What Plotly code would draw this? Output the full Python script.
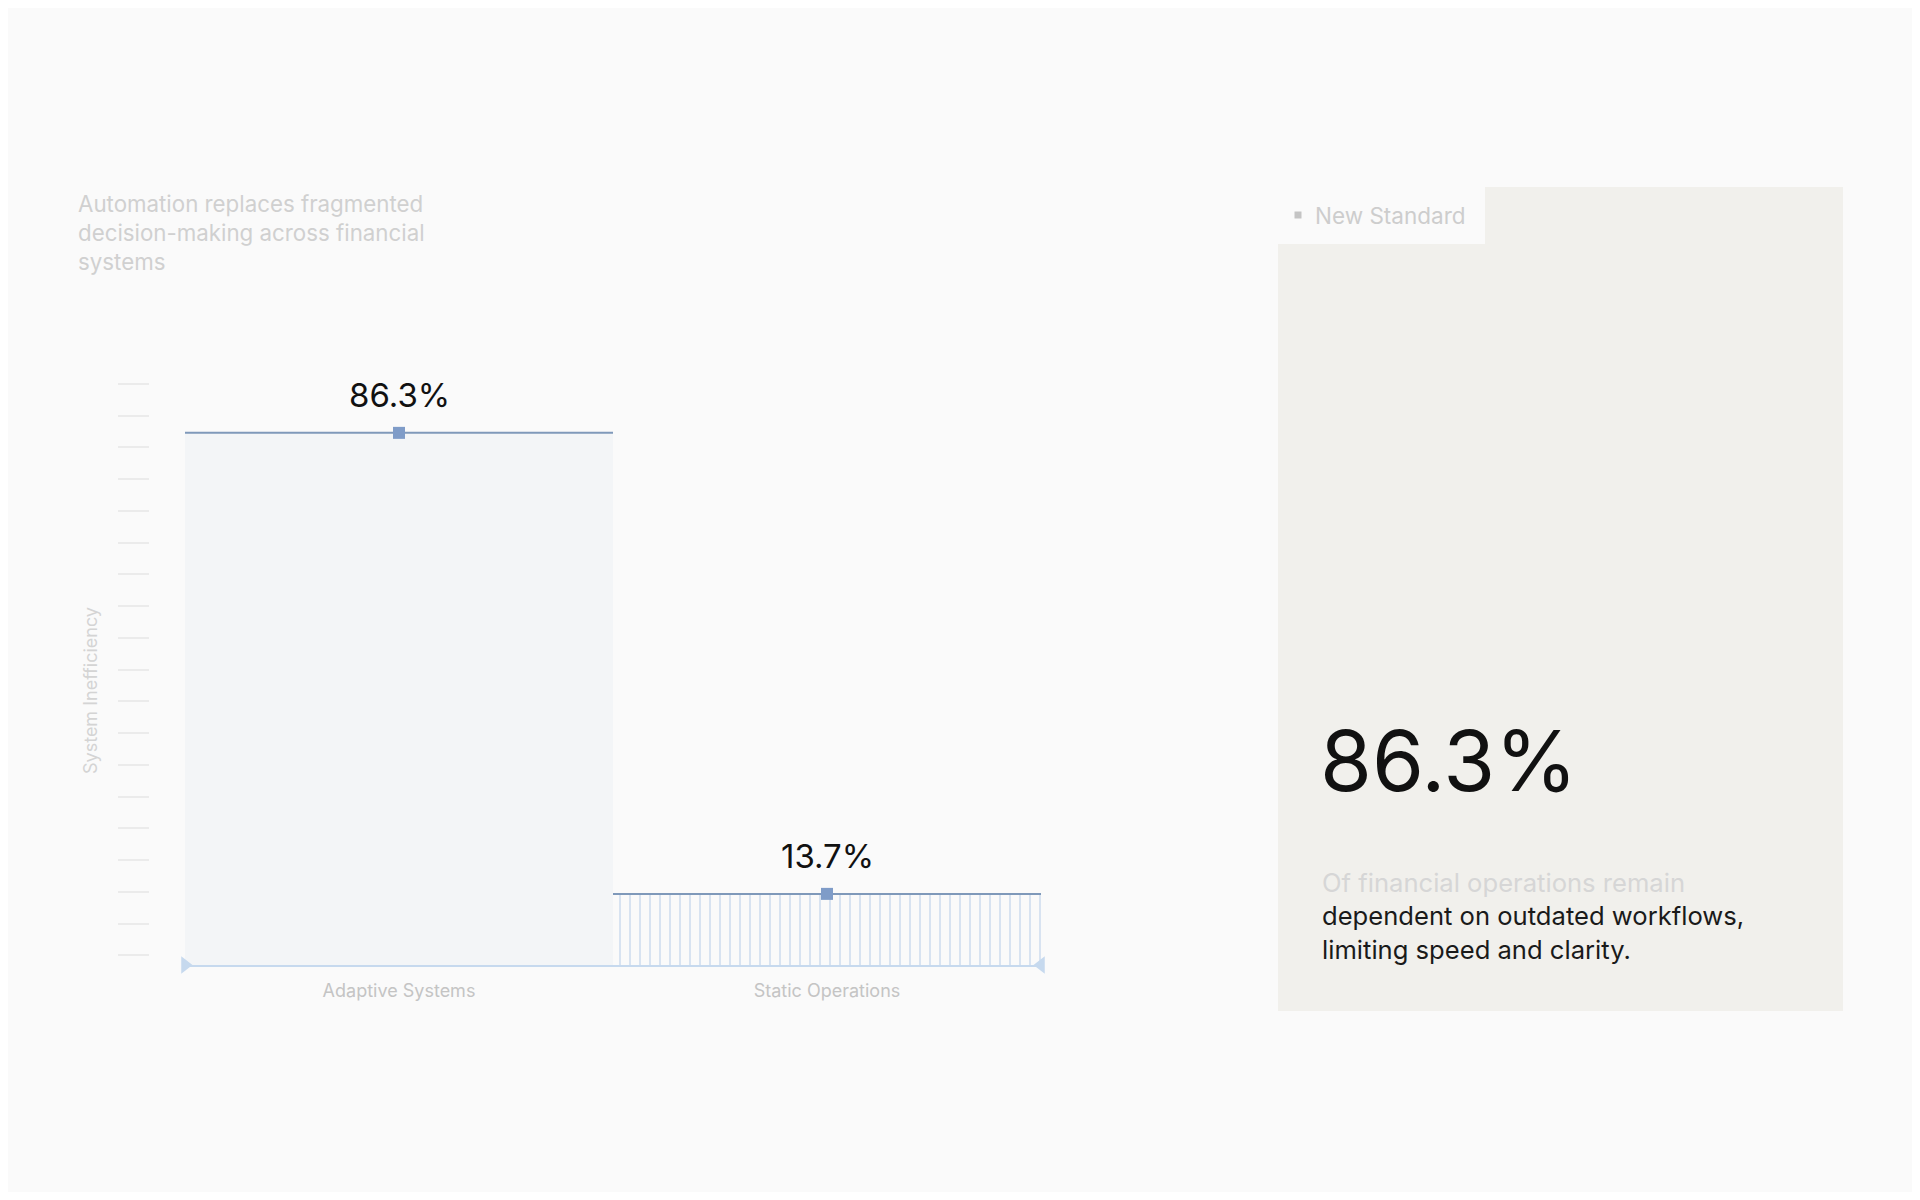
import plotly.graph_objects as go

# %%
# Data
categories = ["Adaptive Systems", "Static Operations"]
values = [86.3, 13.7]

subtitle_lines = [
    "Automation replaces fragmented",
    "decision-making across financial",
    "systems",
]
y_title = "System Inefficiency"
legend_label = "New Standard"
callout_lines = [
    "Of financial operations remain",
    "dependent on outdated workflows,",
    "limiting speed and clarity.",
]

# %%
# Styling
PAGE_MARGIN = 8  # default body margin of the html page
W, H = 1920 - 2 * PAGE_MARGIN, 1200 - 2 * PAGE_MARGIN
FONT = "Inter"
BG = "#fafafa"
PANEL = "#f1f0ec"
LINE_BLUE = "#7f99ba"
MARK_BLUE = "#7f9cc8"
HATCH = "#b6cbe7"
AXIS_BLUE = "#c6d9ee"
LIGHT_TEXT = "#cdcdcd"


def px_x(x):
    # screen pixel -> paper fraction
    return (x - PAGE_MARGIN) / W


def px_y(y):
    return 1 - (y - PAGE_MARGIN) / H


xs = list(range(len(categories)))

fig = go.Figure()

# bars: plain fill for the first, vertical hatch for the second
fig.add_trace(
    go.Bar(
        x=xs[:1],
        y=values[:1],
        width=1,
        marker=dict(color="#f3f5f7", line=dict(width=0)),
        hoverinfo="skip",
        showlegend=False,
    )
)
fig.add_trace(
    go.Bar(
        x=xs[1:],
        y=values[1:],
        width=1,
        marker=dict(
            color=BG,
            line=dict(width=0),
            pattern=dict(shape="|", fgcolor=HATCH, bgcolor=BG, size=10, solidity=0.2),
        ),
        hoverinfo="skip",
        showlegend=False,
    )
)

# top edge line of each bar
for i, v in zip(xs, values):
    fig.add_trace(
        go.Scatter(
            x=[i - 0.5, i + 0.5],
            y=[v, v],
            mode="lines",
            line=dict(color=LINE_BLUE, width=2),
            hoverinfo="skip",
            showlegend=False,
        )
    )

# centre markers
fig.add_trace(
    go.Scatter(
        x=xs,
        y=values,
        mode="markers",
        marker=dict(symbol="square", size=12, color=MARK_BLUE),
        hoverinfo="skip",
        showlegend=False,
    )
)

# value labels
for i, v in zip(xs, values):
    fig.add_annotation(
        x=i,
        y=v,
        text=f"{v}%",
        showarrow=False,
        yshift=38,
        font=dict(family=FONT, size=33, color="#111111"),
    )

# arrow heads on the x axis line
y_lo = 2.5
fig.add_trace(
    go.Scatter(
        x=[xs[0] - 0.5, xs[-1] + 0.5],
        y=[y_lo, y_lo],
        mode="markers",
        marker=dict(
            symbol=["triangle-right", "triangle-left"], size=15, color=AXIS_BLUE
        ),
        cliponaxis=False,
        hoverinfo="skip",
        showlegend=False,
    )
)

fig.update_layout(
    width=W,
    height=H,
    margin=dict(l=0, r=0, t=0, b=0),
    paper_bgcolor=BG,
    plot_bgcolor="rgba(0,0,0,0)",
    barmode="overlay",
    bargap=0,
    font=dict(family=FONT),
    xaxis=dict(
        domain=[px_x(185), px_x(1041)],
        range=[-0.5, len(categories) - 0.5],
        tickvals=xs,
        ticktext=categories,
        tickfont=dict(size=18, color="#c4c4c4"),
        ticks="outside",
        ticklen=8,
        tickcolor="rgba(0,0,0,0)",
        showline=True,
        linecolor=AXIS_BLUE,
        linewidth=2,
        showgrid=False,
        zeroline=False,
    ),
    yaxis=dict(
        domain=[px_y(965), px_y(370)],
        range=[y_lo, 96.2],
        anchor="free",
        position=px_x(149),
        tick0=4,
        dtick=5,
        ticks="outside",
        ticklen=31,
        tickwidth=1.5,
        tickcolor="#ebebeb",
        showticklabels=False,
        showline=False,
        showgrid=False,
        zeroline=False,
    ),
)

# y axis title
fig.add_annotation(
    xref="paper",
    yref="paper",
    x=px_x(90),
    y=px_y(691),
    xanchor="center",
    yanchor="middle",
    text=y_title,
    textangle=-90,
    showarrow=False,
    font=dict(family=FONT, size=18, color="#d4d4d4"),
)

# subtitle
fig.add_annotation(
    xref="paper",
    yref="paper",
    x=px_x(76),
    y=px_y(232),
    xanchor="left",
    yanchor="middle",
    align="left",
    text="<br>".join(subtitle_lines),
    showarrow=False,
    font=dict(family=FONT, size=22.3, color="#d0d0d0"),
)

# right panel with notched top-left corner
pts = [(1278, 244), (1485, 244), (1485, 187), (1843, 187), (1843, 1011), (1278, 1011)]
path = "M " + " L ".join(f"{px_x(x)},{px_y(y)}" for x, y in pts) + " Z"
fig.add_shape(
    type="path",
    xref="paper",
    yref="paper",
    path=path,
    fillcolor=PANEL,
    line=dict(width=0),
    layer="below",
)

# legend-like tag
fig.add_shape(
    type="rect",
    xref="paper",
    yref="paper",
    x0=px_x(1294.5),
    x1=px_x(1301.5),
    y0=px_y(218.5),
    y1=px_y(211.5),
    fillcolor="#c4c4c4",
    line=dict(width=0),
)
fig.add_annotation(
    xref="paper",
    yref="paper",
    x=px_x(1313),
    y=px_y(216),
    xanchor="left",
    yanchor="middle",
    text=legend_label,
    showarrow=False,
    font=dict(family=FONT, size=22.5, color=LIGHT_TEXT),
)

# big number
fig.add_annotation(
    xref="paper",
    yref="paper",
    x=px_x(1318),
    y=px_y(760),
    xanchor="left",
    yanchor="middle",
    text=f"{values[0]}%",
    showarrow=False,
    font=dict(family=FONT, size=84, color="#111111"),
)

# callout text
callout = (
    f"<span style='color:#d6d6d6'>{callout_lines[0]}</span><br>"
    + "<br>".join(callout_lines[1:])
)
fig.add_annotation(
    xref="paper",
    yref="paper",
    x=px_x(1320),
    y=px_y(916),
    xanchor="left",
    yanchor="middle",
    align="left",
    text=callout,
    showarrow=False,
    font=dict(family=FONT, size=25.6, color="#1a1a1a"),
)

fig.write_html("out.html")
